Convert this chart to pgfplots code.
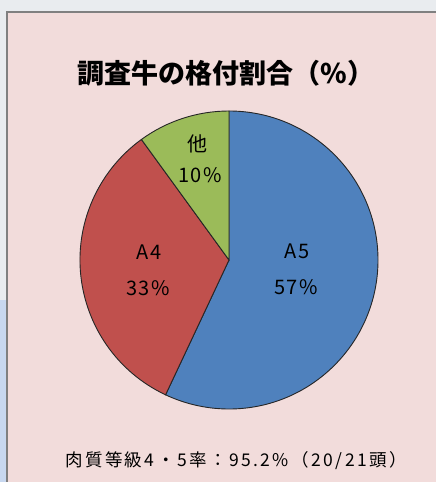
\documentclass[border=0pt]{standalone}
\usepackage{pgfplots}
\pgfplotsset{compat=1.18}
\usepackage{pgfplotstable}
\usepackage{fontspec}
\setmainfont{Noto Sans CJK JP}
\newfontfamily\cjk{Noto Sans CJK JP}
\newfontfamily\cjkwide[LetterSpace=8]{Noto Sans CJK JP}
\newfontfamily\cjkwider[LetterSpace=14]{Noto Sans CJK JP}
\definecolor{bgout}{HTML}{E9ECEF}
\definecolor{bgblue}{HTML}{C8D8F0}
\definecolor{boxpink}{HTML}{F2DCDB}
\definecolor{pieblue}{HTML}{4F81BD}
\definecolor{piered}{HTML}{C0504D}
\definecolor{piegreen}{HTML}{9BBB59}
\pgfplotstableread{
label value
A5 57
A4 33
other 10
}\piedata
\begin{document}
\begin{tikzpicture}
\pgfplotstablegetelem{0}{value}\of\piedata \pgfmathsetmacro\va{\pgfplotsretval}
\pgfplotstablegetelem{1}{value}\of\piedata \pgfmathsetmacro\vb{\pgfplotsretval}
\pgfplotstablegetelem{2}{value}\of\piedata \pgfmathsetmacro\vc{\pgfplotsretval}
\pgfmathsetmacro\aA{90-3.6*\va}
\pgfmathsetmacro\aB{\aA-3.6*\vb}
\pgfmathsetmacro\aC{\aB-3.6*\vc}
\begin{axis}[
  width=436pt, height=482pt, scale only axis,
  xmin=0, xmax=436, ymin=0, ymax=482,
  hide axis, clip=true,
]
\fill[bgout] (axis cs:0,0) rectangle (axis cs:436,482);
\fill[bgblue] (axis cs:0,0) rectangle (axis cs:7,182);
\fill[boxpink, draw=black!50, line width=1.2pt] (axis cs:7,470) rectangle (axis cs:445,-10);
% pie
\fill[pieblue, draw=black!85, line width=0.9pt] (axis cs:229,222) -- +(90:149pt) arc[start angle=90, end angle=\aA, radius=149pt] -- cycle;
\fill[piered, draw=black!85, line width=0.9pt] (axis cs:229,222) -- +(\aA:149pt) arc[start angle=\aA, end angle=\aB, radius=149pt] -- cycle;
\fill[piegreen, draw=black!85, line width=0.9pt] (axis cs:229,222) -- +(\aB:149pt) arc[start angle=\aB, end angle=\aC, radius=149pt] -- cycle;
% labels
\node[font=\cjkwide\fontsize{20}{20}\selectfont] at (axis cs:297,231) {A5};
\node[font=\cjkwide\fontsize{20}{20}\selectfont] at (axis cs:296,195) {57\%};
\node[font=\cjkwide\fontsize{20}{20}\selectfont] at (axis cs:149,230) {A4};
\node[font=\cjkwide\fontsize{20}{20}\selectfont] at (axis cs:148,194) {33\%};
\node[font=\cjk\fontsize{20}{20}\selectfont] at (axis cs:197,338) {他};
\node[font=\cjkwide\fontsize{20}{20}\selectfont] at (axis cs:200,307) {10\%};
% title
\node[font=\cjk\bfseries\fontsize{27}{27}\selectfont] at (axis cs:226,409) {調査牛の格付割合（\%）};
% footer
\node[font=\cjkwider\fontsize{17.5}{17.5}\selectfont] at (axis cs:236,21) {肉質等級4・5率：95.2\%（20/21頭）};
\end{axis}
\end{tikzpicture}
\end{document}
